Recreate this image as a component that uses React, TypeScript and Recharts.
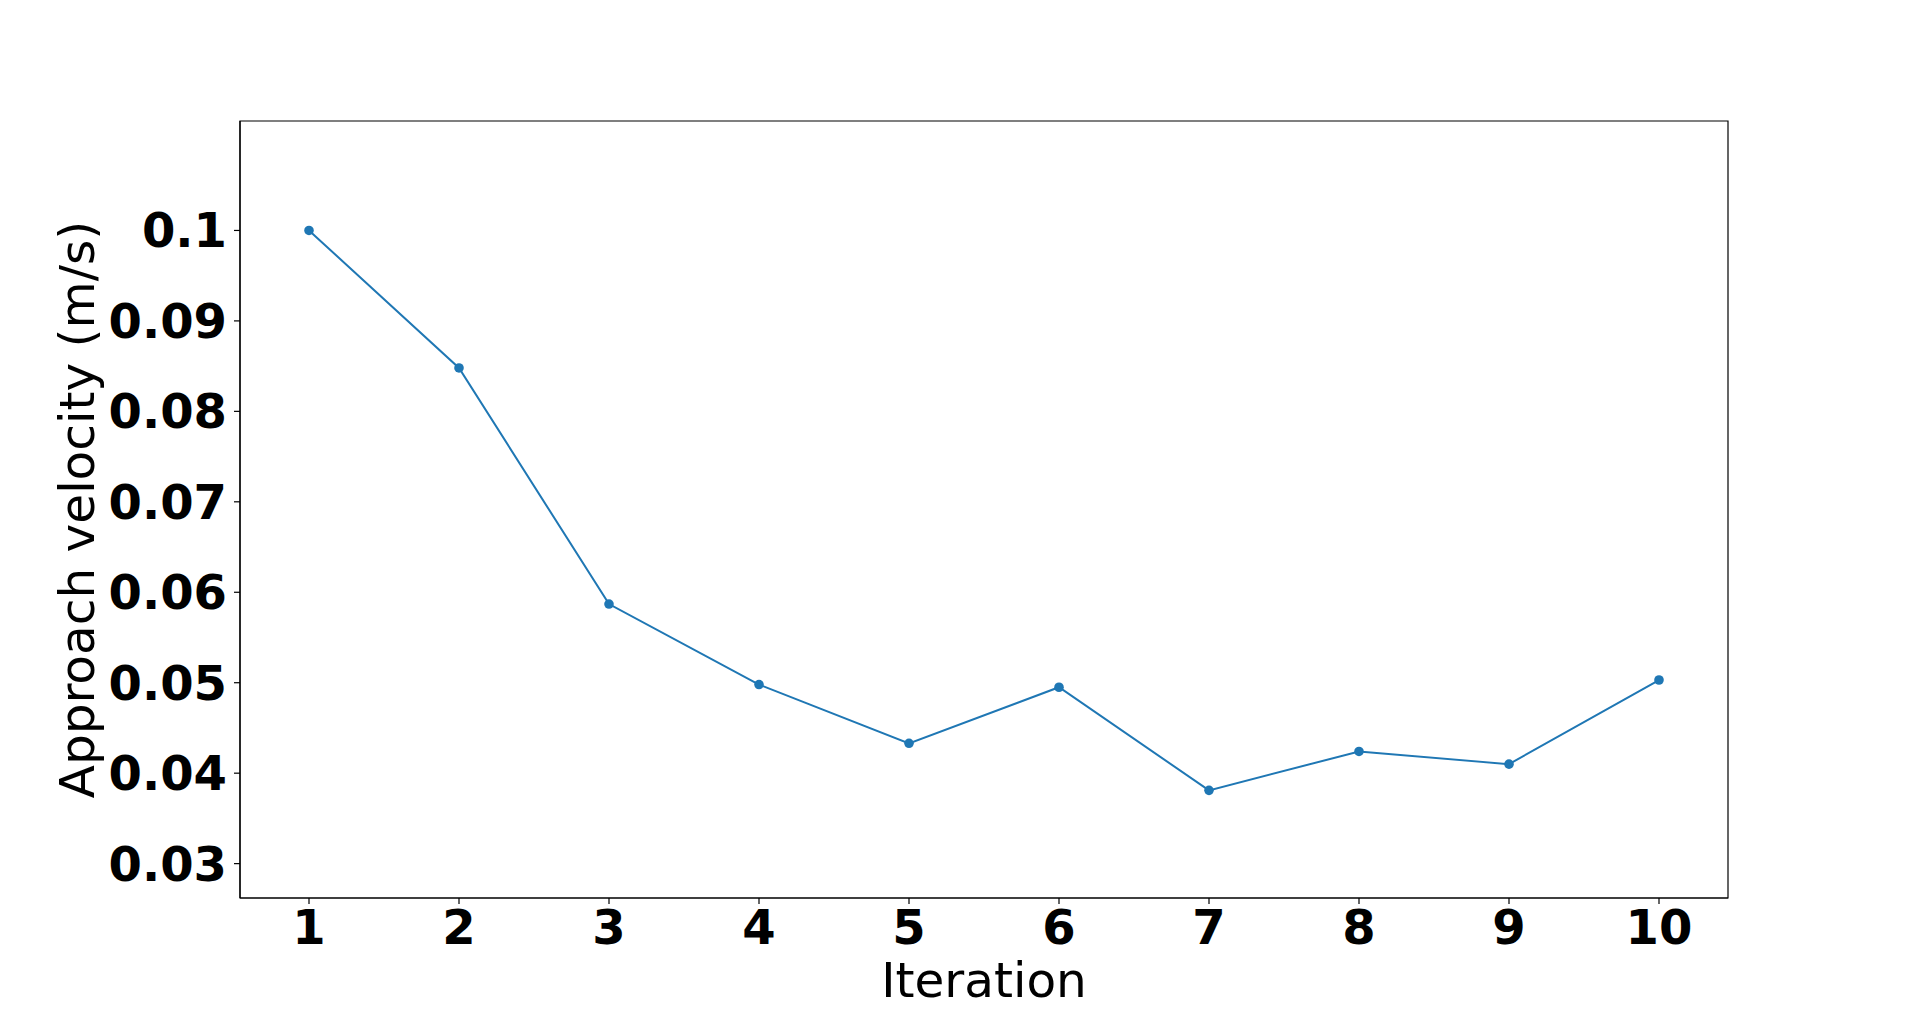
import { LineChart, Line, XAxis, YAxis, Label, ReferenceArea } from 'recharts'

const iterations = [1, 2, 3, 4, 5, 6, 7, 8, 9, 10]
const velocity = [0.1, 0.0848, 0.0587, 0.0498, 0.0433, 0.0495, 0.0381, 0.0424, 0.041, 0.0503]
const xTicks = [1, 2, 3, 4, 5, 6, 7, 8, 9, 10]
const yTicks = [0.03, 0.04, 0.05, 0.06, 0.07, 0.08, 0.09, 0.1]
const xDomain = [0.54, 10.46]
const yDomain = [0.0262, 0.1121]

const data = iterations.map((it, i) => ({ iteration: it, velocity: velocity[i] }))

const FONT = '"DejaVu Sans", sans-serif'
const tickStyle = { fontFamily: FONT, fontSize: 48, fontWeight: 'bold', fill: '#000' }

function YTitle(props: any) {
  const vb = props.viewBox
  const x = vb.x + 94
  const y = vb.y + vb.height / 2
  return (
    <text x={x} y={y} transform={`rotate(-90, ${x}, ${y})`} textAnchor="middle"
      style={{ fontFamily: FONT, fontSize: 48.5, fill: '#000' }}>
      Approach velocity (m/s)
    </text>
  )
}

function XTitle(props: any) {
  const vb = props.viewBox
  return (
    <text x={vb.x + vb.width / 2} y={vb.y + 99} textAnchor="middle"
      style={{ fontFamily: FONT, fontSize: 48.5, fill: '#000' }}>
      Iteration
    </text>
  )
}

export default function App() {
  return (
    <div style={{ position: 'absolute', top: 0, left: 0, width: 1920, height: 1009 }}>
      <LineChart width={1920} height={1009} data={data} style={{ overflow: 'visible' }}
        margin={{ top: 121, right: 192, bottom: 0, left: 0 }}>
        <XAxis dataKey="iteration" type="number" domain={xDomain} ticks={xTicks}
          height={111} tickSize={6} tickMargin={6} interval={0}
          stroke="#000" tick={tickStyle} tickLine={{ stroke: '#000', strokeWidth: 1.2 }}
          axisLine={{ stroke: '#000', strokeWidth: 1.2 }}>
          <Label content={XTitle} />
        </XAxis>
        <YAxis type="number" domain={yDomain} ticks={yTicks} width={240}
          tickSize={6} tickMargin={7} interval={0} tick={tickStyle}
          tickFormatter={(v: number) => String(v)}
          tickLine={{ stroke: '#000', strokeWidth: 1.2 }}
          axisLine={{ stroke: '#000', strokeWidth: 1.2 }}>
          <Label content={YTitle} />
        </YAxis>
        <ReferenceArea x1={xDomain[0]} x2={xDomain[1]} y1={yDomain[0]} y2={yDomain[1]}
          fill="none" fillOpacity={0} stroke="#000" strokeWidth={1.2} ifOverflow="visible" />
        <Line type="linear" dataKey="velocity" stroke="#1f77b4" strokeWidth={2}
          dot={{ r: 4.8, fill: '#1f77b4', stroke: '#1f77b4', strokeWidth: 0 }}
          activeDot={false} isAnimationActive={false} />
      </LineChart>
    </div>
  )
}
